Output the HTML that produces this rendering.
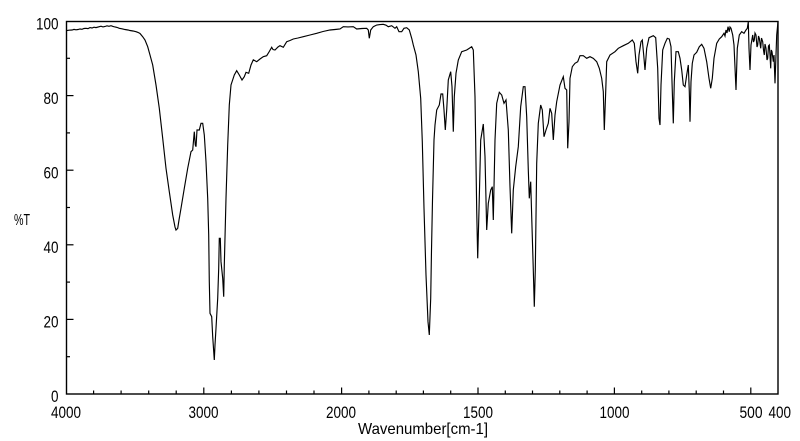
<!DOCTYPE html>
<html>
<head>
<meta charset="utf-8">
<style>
  html,body{margin:0;padding:0;background:#fff;}
  svg{display:block;}
  text{font-family:"Liberation Sans",sans-serif;fill:#000;}
</style>
</head>
<body>
<svg width="800" height="441" viewBox="0 0 800 441" xmlns="http://www.w3.org/2000/svg">
  <rect x="0" y="0" width="800" height="441" fill="#fff"/>
  <!-- frame -->
  <rect x="66.5" y="21.5" width="711.5" height="372.5" fill="none" stroke="#000" stroke-width="1.4"/>

  <!-- Y ticks (inward) -->
  <g stroke="#000" stroke-width="1.2">
    <line x1="66.5" y1="356.7" x2="70" y2="356.7"/>
    <line x1="66.5" y1="319.4" x2="73.5" y2="319.4"/>
    <line x1="66.5" y1="282.1" x2="70" y2="282.1"/>
    <line x1="66.5" y1="244.8" x2="73.5" y2="244.8"/>
    <line x1="66.5" y1="207.5" x2="70" y2="207.5"/>
    <line x1="66.5" y1="170.2" x2="73.5" y2="170.2"/>
    <line x1="66.5" y1="132.9" x2="70" y2="132.9"/>
    <line x1="66.5" y1="95.6" x2="73.5" y2="95.6"/>
    <line x1="66.5" y1="58.3" x2="70" y2="58.3"/>
  </g>

  <!-- X ticks (inward) -->
  <g stroke="#000" stroke-width="1.2">
    <!-- 4000-2000 every 200 -->
    <line x1="93.6" y1="394" x2="93.6" y2="390.5"/>
    <line x1="121.1" y1="394" x2="121.1" y2="390.5"/>
    <line x1="148.7" y1="394" x2="148.7" y2="390.5"/>
    <line x1="176.2" y1="394" x2="176.2" y2="390.5"/>
    <line x1="203.8" y1="394" x2="203.8" y2="387.5"/>
    <line x1="231.4" y1="394" x2="231.4" y2="390.5"/>
    <line x1="258.9" y1="394" x2="258.9" y2="390.5"/>
    <line x1="286.5" y1="394" x2="286.5" y2="390.5"/>
    <line x1="314.0" y1="394" x2="314.0" y2="390.5"/>
    <line x1="341.6" y1="394" x2="341.6" y2="387.5"/>
    <!-- 2000-400 every 100 -->
    <line x1="368.9" y1="394" x2="368.9" y2="390.5"/>
    <line x1="396.2" y1="394" x2="396.2" y2="390.5"/>
    <line x1="423.4" y1="394" x2="423.4" y2="390.5"/>
    <line x1="450.7" y1="394" x2="450.7" y2="390.5"/>
    <line x1="478.0" y1="394" x2="478.0" y2="387.5"/>
    <line x1="505.3" y1="394" x2="505.3" y2="390.5"/>
    <line x1="532.5" y1="394" x2="532.5" y2="390.5"/>
    <line x1="559.8" y1="394" x2="559.8" y2="390.5"/>
    <line x1="587.1" y1="394" x2="587.1" y2="390.5"/>
    <line x1="614.4" y1="394" x2="614.4" y2="387.5"/>
    <line x1="641.7" y1="394" x2="641.7" y2="390.5"/>
    <line x1="668.9" y1="394" x2="668.9" y2="390.5"/>
    <line x1="696.2" y1="394" x2="696.2" y2="390.5"/>
    <line x1="723.5" y1="394" x2="723.5" y2="390.5"/>
    <line x1="750.8" y1="394" x2="750.8" y2="387.5"/>
  </g>

  <!-- Y labels -->
  <g font-size="16.5" text-anchor="end">
    <text x="58.5" y="29.5" textLength="22.5" lengthAdjust="spacingAndGlyphs">100</text>
    <text x="58.5" y="104" textLength="15" lengthAdjust="spacingAndGlyphs">80</text>
    <text x="58.5" y="178.5" textLength="15" lengthAdjust="spacingAndGlyphs">60</text>
    <text x="58.5" y="253" textLength="15" lengthAdjust="spacingAndGlyphs">40</text>
    <text x="58.5" y="327.5" textLength="15" lengthAdjust="spacingAndGlyphs">20</text>
    <text x="58.5" y="402" textLength="7.5" lengthAdjust="spacingAndGlyphs">0</text>
  </g>
  <text x="14" y="225" font-size="16" textLength="16" lengthAdjust="spacingAndGlyphs">%T</text>

  <!-- X labels -->
  <g font-size="16.5">
    <text x="51" y="418" textLength="30" lengthAdjust="spacingAndGlyphs">4000</text>
    <text x="188.5" y="418" textLength="30" lengthAdjust="spacingAndGlyphs">3000</text>
    <text x="326" y="418" textLength="30" lengthAdjust="spacingAndGlyphs">2000</text>
    <text x="463" y="418" textLength="30" lengthAdjust="spacingAndGlyphs">1500</text>
    <text x="599.5" y="418" textLength="30" lengthAdjust="spacingAndGlyphs">1000</text>
    <text x="739.5" y="418" textLength="23" lengthAdjust="spacingAndGlyphs">500</text>
    <text x="768.5" y="418" textLength="22.5" lengthAdjust="spacingAndGlyphs">400</text>
  </g>
  <text x="358" y="434" font-size="16" textLength="130" lengthAdjust="spacingAndGlyphs">Wavenumber[cm-1]</text>

  <!-- spectrum -->
  <polyline fill="none" stroke="#000" stroke-width="1.15" stroke-linejoin="miter" points="
66,30.7 69,30.2 72,30 74,29.4 76,29.8 78,29.5 80,29 82,29.3 84,28.5 86,28.3 88,28.6 90,27.6 92,28 94,27.2 96,27.6 99.3,26.7 101,26.2 103,26.9 105,26.5 107,25.8 109,26.3 111,25.7 113,26.4 115,27 117,27.4 119.3,28.3 122,28.8 125,29.5 128,30 130,30.5 133,31 136,31.7 138,32.4 140,33.5 142.7,36.7 145,40 147.7,46.7 150,55 152.7,65 156,85 159.3,108.3 162.7,138.3 166,168.3 169.3,191.7 172.7,215 175,227 176,230 177.7,228.3 179,220 181,208.3 184.3,188.3 187.7,168.3 191,151.7 192.7,150 194.3,131.7 195.3,145 196,146.7 197,130 199.3,130 201,123.3 202.7,123.3 204.3,135 206,161.7 207.7,198.3 208.7,235 209.3,281.7 210,313.3 211.7,316.7 212.7,336.7 214.3,360 215,345 216,328.3 217.7,298.3 218.7,268.3 219.3,238.3 220.3,238.3 221,261.7 222.7,278.3 223.7,296.7 224.3,265 226,198.3 227.7,145 229.3,105 231,85 234.3,75 236.7,70.7 239.3,75 242,80 244.3,76.7 246,72.3 248.7,73.3 251,65 253.3,59.8 256.7,61.7 260,59 263.3,56.7 266.7,55.7 269,52 271.7,47.3 273,49.5 275,50 278,47 280,45.7 283.3,47.3 286.7,41.7 290,40.5 293.3,39 298,38 303.3,36.7 310,35 316.7,33.3 323,31.5 330,30 335,29.5 340,29 343.3,26.7 348,26.9 353.3,26.7 356.7,29 362,28.5 366.7,28.3 368.3,30 369.3,38.3 370.7,30 373.3,26.7 376.7,25 380,24.6 383.3,24.3 386,25.2 388.3,26.7 391.7,25.7 395,28.3 396.7,26.7 399,31.7 401.7,31.7 404,28.3 406.7,27.7 409.3,30 411.7,38.3 413.3,45 416,55 418.3,71.7 420.7,98.3 422.3,141.7 424,208.3 426,275 428,321.7 429.3,335 430.7,298.3 431.5,250 432.5,200 434,140 435,125 436.7,110 439.3,105 441,94 442.7,94 444,110 445.3,130 446.7,110 448.3,80 450.7,71.7 452,86.7 453.3,131.7 454.3,96.7 456,73.3 458.3,60 461.7,51.7 466.7,50 469,48.5 471.7,46.7 473.3,50 475,96.7 476.7,210 477.7,258.3 479,210 480.7,140 483.3,124 485,156.7 486.7,230 488.3,203.3 490.7,190 492.3,186.7 493.3,220 495,140 496.7,103.3 499.3,92.3 501.7,95 504,103.3 506,100 508.3,130 510,186.7 511.7,233.3 513.3,190 515.7,166.7 518.3,146.7 520.7,106.7 523.3,86.7 525,86.7 526.7,116.7 528.3,170 529.3,198.3 530.7,181.7 531.7,216.7 533.3,270 534.3,306.7 535.3,270 536.7,163.3 538.3,123.3 540.7,105 542.3,110 544,136.7 546,130 548.3,123.3 550,108.3 551.7,113.3 553.3,140 555,115 556.7,101.7 560,85 563.3,76.7 565,88.3 566.7,90 567.7,148.3 569,121.7 570,78.3 572.3,66.7 575,63.3 577.7,61.7 580,55.7 583.3,55.7 586.7,58.3 590,56.7 593.3,58.3 596.7,61.7 599.3,68.3 601.7,78.3 603.3,91.7 604.3,130 605.7,91.7 606.7,61.7 610,55 615,51.7 618.3,48.3 623.3,45.7 628.3,43.3 632.3,40 634.3,43.3 636,61.7 637.7,73.3 639,55 641,41.7 642.3,40 643.7,55 645,70 646.7,48.3 649,37.7 653.3,35.7 655.7,37.7 657.7,68.3 659,118.3 660,125 661,85 662.7,50 665,43.3 667.3,38.3 669.3,39 671,46.7 672,81.7 673.3,123.3 674.3,81.7 676,51.7 678.3,51.7 680,58.3 681.7,70 683.3,85 685,86.7 686.7,75 688.3,65 689.3,91.7 690,121.7 691,81.7 692.3,63.3 694,55 696.7,52.3 699.3,46.7 701.7,44.3 704,48.3 706.7,61.7 709,78.3 710.7,88.3 712.3,78.3 714,58.3 716.7,43.3 719.3,39 721.7,36.7 724,33.3 725,36 726,30 727,33 728,26.7 729.3,31.7 730,27 731,28.3 732.7,35 734,45 736,90 737.3,48.3 739.3,35 741.7,31.7 744,33.3 746,30 747.3,28.3 748.3,21.7 749,48.3 750,70 751,45 752.7,35 753.5,42 754.3,40 755,33 756,35 757,47 757.7,45 758.5,36 759.3,38.3 760.7,48.3 761.5,38 762.7,41.7 763.5,50 764.3,55 765,44 766,48.3 767,60 767.7,58.3 768.5,46 769.3,45 770,55 770.7,68.3 771.3,50 772,51.7 773.3,61.7 774,55 775,83.3 776.7,35 778,21.7
  "/>
</svg>
</body>
</html>
